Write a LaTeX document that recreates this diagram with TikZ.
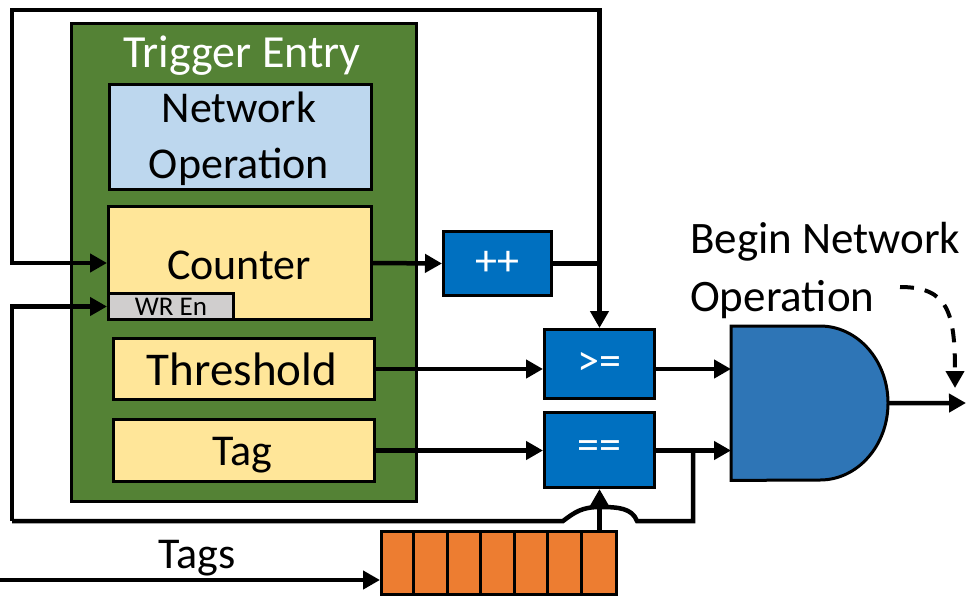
\documentclass[tikz,border=0pt]{standalone}
\usepackage{fontspec}
\setmainfont{Carlito}
\usetikzlibrary{arrows.meta,calc}
\definecolor{tegreen}{HTML}{548235}
\definecolor{nolblue}{HTML}{BDD7EE}
\definecolor{cntyel}{HTML}{FFE699}
\definecolor{wrgray}{HTML}{D0CECE}
\definecolor{opblue}{HTML}{0070C0}
\definecolor{andblue}{HTML}{2E75B6}
\definecolor{qorange}{HTML}{ED7D31}
\begin{document}
\begin{tikzpicture}[x=1pt,y=-1pt,
  box/.style={draw=black, line width=3pt, anchor=north west, inner sep=0pt, align=center, font=\fontsize{44}{55}\selectfont},
  opbox/.style={box, fill=opblue, text=white},
  arr/.style={line width=4.5pt, -{Triangle[length=17pt,width=18pt]}},
  ln/.style={line width=4.5pt},
  lbl/.style={font=\fontsize{44}{57}\selectfont, inner sep=0pt}]
\useasboundingbox (0,0) rectangle (966,595);

% trigger entry
\node[box, fill=tegreen, minimum width=345, minimum height=478] (te) at (70,22) {};
\node[lbl, text=white, font=\fontsize{46}{55}\selectfont] (tetitle) at (242,56) {Trigger Entry};
\node[box, fill=nolblue, minimum width=262, minimum height=105] (netop) at (108,83) {};
\node[lbl, align=center, font=\fontsize{44}{56}\selectfont] (netoplbl) at (239,139) {Network\\Operation};
\node[box, fill=cntyel, minimum width=263, minimum height=113] (counter) at (107,205) {};
\node[lbl] (cntlbl) at (239,265) {Counter};
\node[box, fill=wrgray, minimum width=125, minimum height=26, font=\fontsize{27}{27}\selectfont] (wren) at (107,292) {WR En};
\node[box, fill=cntyel, minimum width=261, minimum height=61] (thr) at (112,337) {};
\node[lbl, font=\fontsize{47}{55}\selectfont] (thrlbl) at (242,369) {Threshold};
\node[box, fill=cntyel, minimum width=261, minimum height=62] (tag) at (112,418) {};
\node[lbl] (taglbl) at (242,455) {Tag};

% operators
\node[opbox, minimum width=108, minimum height=64] (inc) at (442,230) {++};
\node[opbox, minimum width=110, minimum height=69] (ge) at (543,328) {>=};
\node[opbox, minimum width=110, minimum height=75] (eq) at (543,411) {==};

% and gate
\node[minimum width=157, minimum height=154, anchor=north west, inner sep=0pt] (andg) at (731,326) {};
\draw[fill=andblue, line width=3pt] (andg.north west) -- ++(89,0)
  arc[start angle=-90, end angle=90, x radius=68, y radius=77] -- (andg.south west) -- cycle;

% tag queue
\node[box, fill=qorange, minimum width=235, minimum height=63] (queue) at (380,530) {};
\foreach \i in {1,...,6} {
  \draw[line width=3pt] ($(queue.north west)+(\i*33.57,0)$) -- ($(queue.south west)+(\i*33.57,0)$);
}

% coordinates
\coordinate (tl) at (12,10);
\coordinate (bl) at (12,521);
\coordinate (jn) at (693,449);
\coordinate (hr) at (637,521);
\coordinate (hl) at (563,521);
\coordinate (out) at (966,403);
\coordinate (tagsin) at (0,580);
\coordinate (ds) at (900,287);
\coordinate (de) at (955,388);

% connectors
\draw[arr] (counter.east) -- (inc.west);
\draw[arr] (inc.east) -| (ge.north);
\draw[arr] (ge.north |- inc.east) -- (ge.north |- tl) -- (tl) |- (counter.west);
\draw[arr] (thr.east) -- (thr.east -| ge.west);
\draw[arr] (tag.east) -- (tag.east -| eq.west);
\draw[arr] (ge.east |- thr.east) -- (thr.east -| andg.west);
\draw[arr] (eq.east |- tag.east) -- (tag.east -| andg.west);
\draw[arr] (andg.east) -- (out);
\draw[arr] (eq.south |- queue.north) -- (eq.south);
\draw[ln] (jn) |- (hr) .. controls (632,508) and (618,507) .. (600,507)
  .. controls (582,507) and (575,512) .. (hl) -- (bl);
\draw[arr] (bl) |- (wren.west);
\draw[arr] (tagsin) -- (tagsin -| queue.west);
\draw[line width=4pt, dash pattern=on 14pt off 11pt, -{Triangle[length=17pt,width=18pt]}]
  (ds) .. controls (948,287) and (955,312) .. (de);

% labels
\node[lbl] (tagslbl) at (197,558) {Tags};
\node[lbl, anchor=west, align=left, font=\fontsize{45}{58}\selectfont] (bno) at (690,270) {Begin Network\\Operation};
\end{tikzpicture}
\end{document}
